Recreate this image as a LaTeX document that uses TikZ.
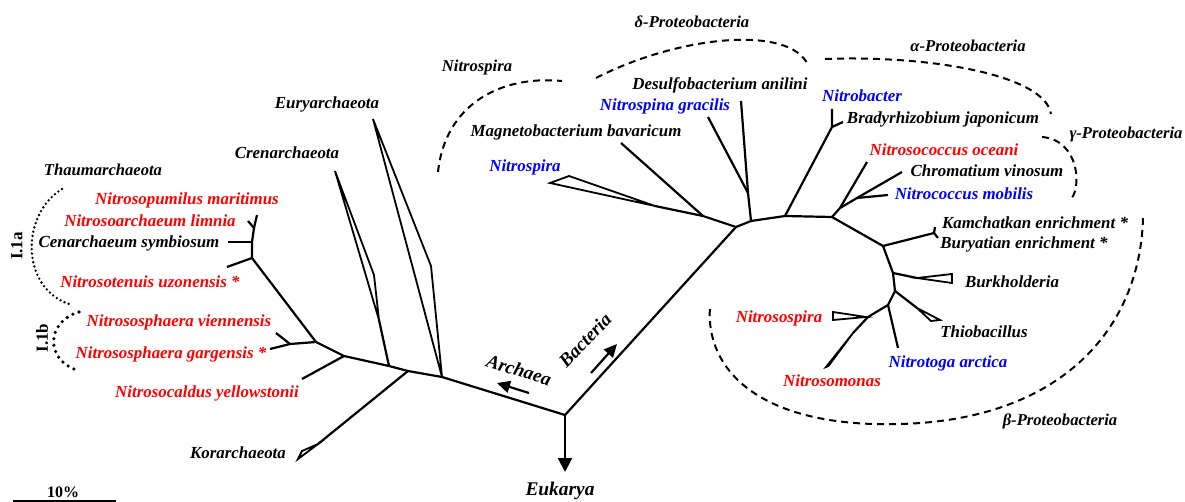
\documentclass[tikz,border=0pt]{standalone}
\usepackage{fontspec}
\setmainfont{Liberation Serif}
\usetikzlibrary{arrows.meta}
\begin{document}
\begin{tikzpicture}[x=1pt,y=-1pt,
  branch/.style={line width=2.2pt, line join=miter},
  clade/.style={line width=1.8pt, line join=miter},
  lbl/.style={font=\fontsize{16.9}{19}\selectfont\bfseries\itshape, inner sep=0pt},
  grp/.style={font=\fontsize{16.6}{19}\selectfont\bfseries\itshape, inner sep=0pt},
  domlbl/.style={font=\fontsize{19}{21}\selectfont\bfseries\itshape, inner sep=0pt},
  aox/.style={lbl, text=red},
  nob/.style={lbl, text=blue},
  bracket/.style={line width=2pt, dash pattern=on 7pt off 5pt},
  dotarc/.style={line width=2.6pt, line cap=round, dash pattern=on 0pt off 4.4pt},
  bigdotarc/.style={line width=3.6pt, line cap=round, dash pattern=on 0pt off 6.5pt},
  dirarrow/.style={line width=2.2pt, -{Triangle[length=13pt,width=12pt]}}
]
\useasboundingbox (0,0) rectangle (1185,502);

% ---------- roots ----------
\coordinate (R) at (565,415);
\coordinate (A) at (442,377);
\coordinate (B) at (736,227);

% ---------- Archaea backbone ----------
\coordinate (K)  at (408,371);
\coordinate (C)  at (389,366);
\coordinate (Q)  at (344,356);
\coordinate (T)  at (316,342);
\coordinate (NS) at (290,344);
\coordinate (Th) at (252,258);
\coordinate (Th2) at (252,242);
\coordinate (Th3) at (254,228);

\draw[branch] (R) -- (A) -- (K) -- (C) -- (Q) -- (T) -- (Th) -- (Th2) -- (Th3) -- (257,215);
\draw[branch] (Th3) -- (248,221);
\draw[branch] (Th2) -- (228,242);
\draw[branch] (Th) -- (227,267);
\draw[branch] (T) -- (NS) -- (270,349);
\draw[branch] (NS) -- (276,333);
\draw[branch] (Q) -- (302,379);

% Euryarchaeota, Crenarchaeota and Korarchaeota collapsed clades
\draw[clade] (A) -- (373,119) -- (431,266) -- cycle;
\draw[branch] (C) -- (379,320);
\draw[clade] (379,320) -- (335,171) -- (374,275) -- cycle;
\draw[branch] (K) -- (318,444);
\draw[clade] (318,444) -- (298,459) -- (302,451) -- cycle;

% ---------- Bacteria backbone ----------
\coordinate (N1) at (703,216);
\coordinate (N2) at (655,206);
\coordinate (D1) at (751,221);
\coordinate (D2) at (748,193);
\coordinate (Al) at (785,216);
\coordinate (Al2) at (832,127);
\coordinate (G)  at (832,217);
\coordinate (G1) at (840,208);
\coordinate (G2) at (857,198);
\coordinate (Be1) at (883,246);
\coordinate (Ka) at (934,233);
\coordinate (Bu) at (893,273);
\coordinate (Tb) at (895,291);
\coordinate (Nt) at (888,305);
\coordinate (Ns) at (868,317);
\coordinate (Nm) at (853,333);

\draw[branch] (R) -- (B);
\draw[branch] (B) -- (N1) -- (621,143);
\draw[branch] (N1) -- (N2);
\draw[clade] (N2) -- (550,183) -- (569,176) -- cycle;
\draw[branch] (B) -- (D1) -- (D2) -- (741,101);
\draw[branch] (D2) -- (708,117);
\draw[branch] (D1) -- (Al) -- (Al2) -- (832,109);
\draw[branch] (Al2) -- (843,122);
\draw[branch] (Al) -- (G) -- (G1) -- (867,162);
\draw[branch] (G1) -- (G2) -- (902,172);
\draw[branch] (G2) -- (888,195);
\draw[branch] (G) -- (Be1) -- (Ka) -- (935,227);
\draw[branch] (Ka) -- (938,238);
\draw[branch] (Be1) -- (Bu) -- (Tb) -- (Nt) -- (Ns);
\draw[branch] (Bu) -- (917,278);
\draw[clade] (917,278) -- (952,274) -- (952,283) -- cycle;
\draw[branch] (Tb) -- (917,308);
\draw[clade] (917,308) -- (940,320) -- (931,321) -- cycle;
\draw[branch] (Nt) -- (898,348);
\draw[clade] (866,317) -- (833,312) -- (833,320) -- cycle;
\draw[branch] (Ns) -- (Nm);
\draw[clade] (Nm) -- (826,367) -- (828.5,366) -- cycle;

% ---------- domain arrows ----------
\node[font=\fontsize{19.4}{22}\selectfont\bfseries\itshape, inner sep=0pt] (euk) at (560,491) {Eukarya};
\draw[line width=2.2pt, -{Triangle[length=14pt,width=14pt]}, shorten >=10pt] (R) -- (565,482);

\coordinate (arA1) at (529,393);
\coordinate (arA2) at (497,383);
\draw[dirarrow] (arA1) -- (arA2);
\node[domlbl, rotate=-17] (archaea) at (519,370) {Archaea};

\coordinate (arB1) at (591,373);
\coordinate (arB2) at (617,344);
\draw[dirarrow] (arB1) -- (arB2);
\node[domlbl, rotate=46] (bacteria) at (585,340) {Bacteria};

% ---------- Archaea labels ----------
\node[grp] (thaum) at (103,170) {Thaumarchaeota};
\node[aox] (nmar) at (187,200) {Nitrosopumilus maritimus};
\node[aox] (nlim) at (150,221) {Nitrosoarchaeum limnia};
\node[lbl] (csym) at (129,243) {Cenarchaeum symbiosum};
\node[aox] (nuzo) at (150,282) {Nitrosotenuis uzonensis *};
\node[aox] (nvie) at (179,322) {Nitrososphaera viennensis};
\node[aox] (ngar) at (171,354) {Nitrososphaera gargensis *};
\node[aox] (nyel) at (207,393) {Nitrosocaldus yellowstonii};
\node[lbl] (cren) at (287,153) {Crenarchaeota};
\node[lbl] (eury) at (327,104) {Euryarchaeota};
\node[lbl] (kor) at (238,453) {Korarchaeota};

\node[font=\fontsize{17}{19}\selectfont\bfseries, rotate=90, inner sep=0pt] (g1a) at (17,246) {I.1a};
\node[font=\fontsize{17}{19}\selectfont\bfseries, rotate=90, inner sep=0pt] (g1b) at (42,338) {I.1b};
\draw[dotarc] (62,189) .. controls (20,215) and (20,290) .. (72,305);
\draw[bigdotarc] (79,312) .. controls (45,322) and (45,362) .. (80,371);

% ---------- Bacteria labels ----------
\node[grp] (gnsp) at (477,68) {Nitrospira};
\node[grp] (gdel) at (692,22) {δ-Proteobacteria};
\node[grp] (galp) at (968,46) {α-Proteobacteria};
\node[grp] (ggam) at (1126,135) {γ-Proteobacteria};
\node[grp] (gbet) at (1060,421) {β-Proteobacteria};

\node[lbl] (mbav) at (576,132) {Magnetobacterium bavaricum};
\node[nob] (nspi) at (525,167) {Nitrospira};
\node[nob] (ngra) at (665,106) {Nitrospina gracilis};
\node[lbl] (dani) at (720,85) {Desulfobacterium anilini};
\node[nob] (nbac) at (862,96) {Nitrobacter};
\node[lbl] (bjap) at (943,119) {Bradyrhizobium japonicum};
\node[aox] (noce) at (944,150) {Nitrosococcus oceani};
\node[lbl] (cvin) at (987,171) {Chromatium vinosum};
\node[nob] (nmob) at (964,194) {Nitrococcus mobilis};
\node[lbl] (kamc) at (1035,223) {Kamchatkan enrichment *};
\node[lbl] (bury) at (1024,244) {Buryatian enrichment *};
\node[lbl] (burk) at (1012,282) {Burkholderia};
\node[lbl] (thio) at (984,332) {Thiobacillus};
\node[nob] (narc) at (948,363) {Nitrotoga arctica};
\node[aox] (nspa) at (779,318) {Nitrosospira};
\node[aox] (nmon) at (832,381) {Nitrosomonas};

% clade brackets
\draw[bracket] (438,172) .. controls (445,105) and (500,75) .. (562,81);
\draw[bracket] (596,78) .. controls (680,35) and (790,25) .. (808,65);
\draw[bracket] (825,59) .. controls (930,55) and (1045,75) .. (1051,114);
\draw[bracket] (1042,137) .. controls (1080,140) and (1082,190) .. (1070,200);
\draw[bracket] (1143,218) .. controls (1140,330) and (1060,420) .. (900,424)
                .. controls (760,428) and (705,370) .. (710,307);

% ---------- scale bar ----------
\coordinate (sb1) at (13,501);
\coordinate (sb2) at (116,501);
\draw[line width=1.6pt] (sb1) -- (sb2);
\node[font=\fontsize{16}{18}\selectfont\bfseries, inner sep=0pt] (sbl) at (63,492) {10\%};
\end{tikzpicture}
\end{document}
